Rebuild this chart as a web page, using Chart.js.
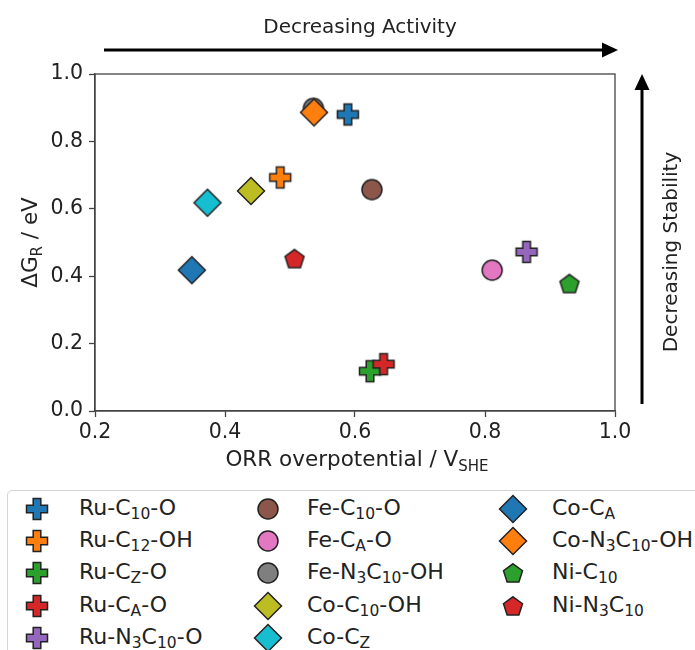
<!DOCTYPE html>
<html>
<head>
<meta charset="utf-8">
<script src="https://cdn.jsdelivr.net/npm/chart.js@4/dist/chart.umd.min.js"></script>
<style>
  html, body { margin: 0; padding: 0; background: #fff; }
  body { width: 695px; height: 650px; overflow: hidden; position: relative; font-family: "DejaVu Sans", sans-serif; color: #222; }
  #chart { position: absolute; left: 0; top: 0; }
  #legendBox { position: absolute; left: 7px; top: 490px; width: 740px; height: 200px; border: 1px solid #d4d4d4; border-radius: 5px; box-sizing: border-box; }
  .lg-mark { position: absolute; }
  .lg-text { position: absolute; font-size: 22px; line-height: 26px; white-space: nowrap; }
  .lg-text sub { font-size: 15.5px; vertical-align: -4px; line-height: 0; }
</style>
</head>
<body>
<canvas id="chart" width="695" height="480"></canvas>
<div id="legendBox"></div>
<div id="legendItems"></div>
<script>
// Datos (sobrepotencial ORR vs energia de reaccion)
const labels = [
  'Ru-C_{10}-O', 'Ru-C_{12}-OH', 'Ru-C_{Z}-O', 'Ru-C_{A}-O', 'Ru-N_{3}C_{10}-O',
  'Fe-C_{10}-O', 'Fe-C_{A}-O', 'Fe-N_{3}C_{10}-OH', 'Co-C_{10}-OH', 'Co-C_{Z}',
  'Co-C_{A}', 'Co-N_{3}C_{10}-OH', 'Ni-C_{10}', 'Ni-N_{3}C_{10}'
];
const overpotential = [0.589, 0.485, 0.623, 0.644, 0.864, 0.626, 0.811, 0.536, 0.440, 0.373, 0.349, 0.537, 0.930, 0.507];
const deltaG =        [0.880, 0.693, 0.118, 0.139, 0.472, 0.657, 0.418, 0.898, 0.653, 0.618, 0.418, 0.886, 0.378, 0.452];
const markers = ['plus', 'plus', 'plus', 'plus', 'plus', 'circle', 'circle', 'circle', 'diamond', 'diamond', 'diamond', 'diamond', 'pentagon', 'pentagon'];
const colors = ['#1f77b4', '#ff7f0e', '#2ca02c', '#d62728', '#9467bd', '#8c564b', '#e377c2', '#7f7f7f', '#bcbd22', '#17becf', '#1f77b4', '#ff7f0e', '#2ca02c', '#d62728'];
const xTicks = [0.2, 0.4, 0.6, 0.8, 1.0];
const yTicks = [0.0, 0.2, 0.4, 0.6, 0.8, 1.0];

const FONT = '"DejaVu Sans", sans-serif';
const INK = '#222';
const AXIS = '#444';

// 'Ru-C_{10}-O' -> [{t:'Ru-C'}, {t:'10', sub:true}, {t:'-O'}]
function parseLabel(str) {
  const parts = [];
  const re = /_\{([^}]*)\}/g;
  let last = 0, m;
  while ((m = re.exec(str)) !== null) {
    if (m.index > last) parts.push({ t: str.slice(last, m.index), sub: false });
    parts.push({ t: m[1], sub: true });
    last = re.lastIndex;
  }
  if (last < str.length) parts.push({ t: str.slice(last), sub: false });
  return parts;
}

function labelHtml(str) {
  return parseLabel(str).map(p => p.sub ? `<sub>${p.t}</sub>` : p.t).join('');
}

// Marcadores con relleno y borde, estilo matplotlib
function makeMarker(shape, color) {
  const size = 32;
  const c = document.createElement('canvas');
  c.width = size; c.height = size;
  const g = c.getContext('2d');
  g.translate(size / 2, size / 2);
  g.beginPath();
  if (shape === 'plus') {
    const a = 10.5, b = 3.8;
    const pts = [[-b, -a], [b, -a], [b, -b], [a, -b], [a, b], [b, b], [b, a], [-b, a], [-b, b], [-a, b], [-a, -b], [-b, -b]];
    pts.forEach((p, i) => i ? g.lineTo(p[0], p[1]) : g.moveTo(p[0], p[1]));
    g.closePath();
  } else if (shape === 'circle') {
    g.arc(0, 0, 10, 0, Math.PI * 2);
  } else if (shape === 'diamond') {
    const r = 13.5;
    g.moveTo(0, -r); g.lineTo(r, 0); g.lineTo(0, r); g.lineTo(-r, 0);
    g.closePath();
  } else if (shape === 'pentagon') {
    const r = 10;
    for (let k = 0; k < 5; k++) {
      const ang = -Math.PI / 2 + k * 2 * Math.PI / 5;
      const px = r * Math.cos(ang), py = r * Math.sin(ang) + 0.8;
      k ? g.lineTo(px, py) : g.moveTo(px, py);
    }
    g.closePath();
  }
  g.fillStyle = color;
  g.fill();
  g.lineWidth = 1.5;
  g.lineJoin = 'miter';
  g.strokeStyle = INK;
  g.stroke();
  return c;
}

const markerImgs = markers.map((m, i) => makeMarker(m, colors[i]));

// Texto con subindices sobre el canvas
function drawRich(ctx, parts, x, y, size) {
  const subSize = Math.round(size * 0.7);
  const widths = parts.map(p => {
    ctx.font = `${p.sub ? subSize : size}px ${FONT}`;
    return ctx.measureText(p.t).width;
  });
  const total = widths.reduce((a, b) => a + b, 0);
  let cx = x - total / 2;
  ctx.textAlign = 'left';
  ctx.textBaseline = 'alphabetic';
  parts.forEach((p, i) => {
    ctx.font = `${p.sub ? subSize : size}px ${FONT}`;
    ctx.fillText(p.t, cx, y + (p.sub ? size * 0.22 : 0));
    cx += widths[i];
  });
}

function arrow(ctx, x1, y1, x2, y2) {
  const ang = Math.atan2(y2 - y1, x2 - x1);
  const head = 16, half = 7.5;
  const bx = x2 - head * Math.cos(ang), by = y2 - head * Math.sin(ang);
  ctx.beginPath();
  ctx.moveTo(x1, y1);
  ctx.lineTo(bx, by);
  ctx.lineWidth = 3;
  ctx.strokeStyle = '#000';
  ctx.stroke();
  ctx.beginPath();
  ctx.moveTo(x2, y2);
  ctx.lineTo(bx - half * Math.sin(ang), by + half * Math.cos(ang));
  ctx.lineTo(bx + half * Math.sin(ang), by - half * Math.cos(ang));
  ctx.closePath();
  ctx.fillStyle = '#000';
  ctx.fill();
}

const decorPlugin = {
  id: 'decor',
  afterDraw(chart) {
    const ctx = chart.ctx;
    const area = chart.chartArea;
    ctx.save();
    // marco completo
    ctx.strokeStyle = AXIS;
    ctx.lineWidth = 1.3;
    ctx.strokeRect(area.left, area.top, area.right - area.left, area.bottom - area.top);

    ctx.fillStyle = INK;
    // titulo eje x
    drawRich(ctx, parseLabel('ORR overpotential / V_{SHE}'), (area.left + area.right) / 2 + 2, 466, 21.5);
    // titulo eje y
    ctx.save();
    ctx.translate(37, (area.top + area.bottom) / 2);
    ctx.rotate(-Math.PI / 2);
    drawRich(ctx, parseLabel('ΔG_{R} / eV'), 0, 0, 21.5);
    ctx.restore();

    // flechas y anotaciones
    arrow(ctx, 104, 50, 618, 50);
    arrow(ctx, 642, 404, 642, 74);
    ctx.fillStyle = INK;
    drawRich(ctx, [{ t: 'Decreasing Activity', sub: false }], 360, 33, 20);
    ctx.save();
    ctx.translate(677, 252);
    ctx.rotate(-Math.PI / 2);
    drawRich(ctx, [{ t: 'Decreasing Stability', sub: false }], 0, 0, 20);
    ctx.restore();
    ctx.restore();
  }
};

const datasets = labels.map((lab, i) => ({
  label: lab,
  data: [{ x: overpotential[i], y: deltaG[i] }],
  pointStyle: markerImgs[i],
  pointRadius: 10,
  order: -i
}));

const tickFont = { family: FONT, size: 20.5 };

new Chart(document.getElementById('chart'), {
  type: 'scatter',
  data: { datasets },
  options: {
    responsive: false,
    animation: false,
    events: [],
    layout: { padding: { top: 74, right: 80, left: 0, bottom: 0 } },
    plugins: { legend: { display: false }, tooltip: { enabled: false } },
    scales: {
      x: {
        type: 'linear',
        min: 0.2,
        max: 1.0,
        afterBuildTicks: s => { s.ticks = xTicks.map(v => ({ value: v })); },
        afterFit: s => { s.height = 480 - 411; },
        ticks: { font: tickFont, color: INK, padding: 3, maxRotation: 0, autoSkip: false, callback: v => v.toFixed(1) },
        grid: { drawOnChartArea: false, tickLength: 6, color: AXIS, tickWidth: 1.3 },
        border: { color: AXIS, width: 1.3 }
      },
      y: {
        type: 'linear',
        min: 0,
        max: 1.0,
        afterBuildTicks: s => { s.ticks = yTicks.map(v => ({ value: v })); },
        afterFit: s => { s.width = 95; },
        ticks: { font: tickFont, color: INK, padding: 6, autoSkip: false, callback: v => v.toFixed(1) },
        grid: { drawOnChartArea: false, tickLength: 6, color: AXIS, tickWidth: 1.3 },
        border: { color: AXIS, width: 1.3 }
      }
    }
  },
  plugins: [decorPlugin]
});

// Leyenda en 3 columnas, orden por columnas
const legendItems = document.getElementById('legendItems');
const colMark = [37, 268, 513];
const colText = [79, 307, 552];
labels.forEach((lab, i) => {
  const col = Math.floor(i / 5), row = i % 5;
  const cy = 509 + row * 32.2;
  const mk = document.createElement('canvas');
  mk.width = 32; mk.height = 32;
  mk.className = 'lg-mark';
  mk.style.left = (colMark[col] - 16) + 'px';
  mk.style.top = (cy - 16) + 'px';
  mk.getContext('2d').drawImage(markerImgs[i], 0, 0);
  legendItems.appendChild(mk);
  const tx = document.createElement('div');
  tx.className = 'lg-text';
  tx.style.left = colText[col] + 'px';
  tx.style.top = (cy - 14) + 'px';
  tx.innerHTML = labelHtml(lab);
  legendItems.appendChild(tx);
});
</script>
</body>
</html>
